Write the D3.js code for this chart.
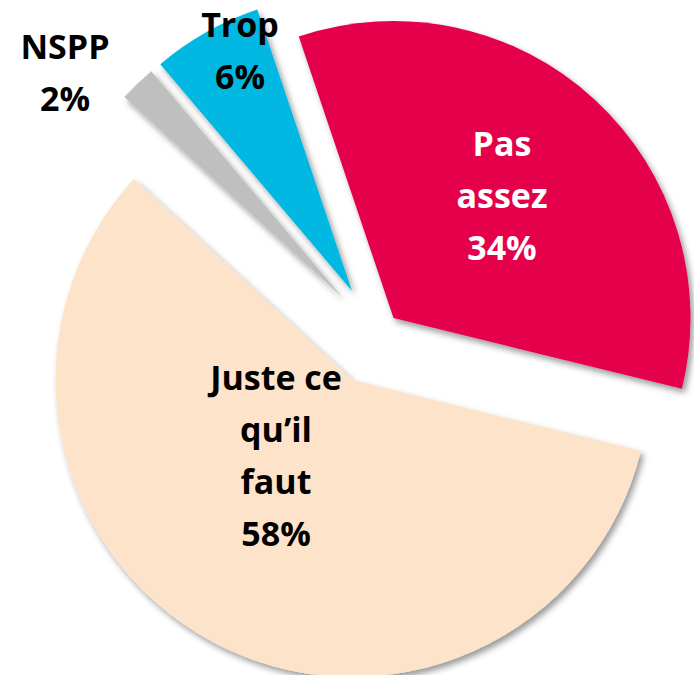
<!DOCTYPE html>
<html>
<head>
<meta charset="utf-8">
<script src="https://cdn.jsdelivr.net/npm/d3@7"></script>
<style>
  html, body { margin: 0; padding: 0; background: #fff; }
  svg { display: block; }
</style>
</head>
<body>
<svg id="chart" width="694" height="675"></svg>
<script>
// ---- data ----
const categories = ["Pas assez", "Juste ce qu’il faut", "NSPP", "Trop"];
const values = [34, 58, 2, 6];
const labelLines = [
  ["Pas", "assez", "34%"],
  ["Juste ce", "qu’il", "faut", "58%"],
  ["NSPP", "2%"],
  ["Trop", "6%"]
];
const colors = ["#E4004B", "#FDE3C9", "#BFBFBF", "#00B8E1"];
const textColors = ["#ffffff", "#000000", "#000000", "#000000"];

// ---- layout ----
const W = 694, H = 675;
const R = 297;
const C = [366, 348];
const startDeg = -18.6;
// per-slice explosion offsets from the common centre
const explode = [[27.5, -30], [-13.5, 32], [-23, -50], [-14, -57]];
// label centres relative to the common centre
const labelPos = [[136, -152], [-90, 108], [-301, -275], [-126, -297]];
const lineH = 52;

const svg = d3.select("#chart");
const defs = svg.append("defs");
const f = defs.append("filter").attr("id", "shadow")
  .attr("x", "-20%").attr("y", "-20%").attr("width", "140%").attr("height", "140%");
f.append("feDropShadow").attr("dx", 3).attr("dy", 4).attr("stdDeviation", 3)
  .attr("flood-color", "#000").attr("flood-opacity", 0.4);

const pie = d3.pie().sort(null).value(d => d)
  .startAngle(startDeg * Math.PI / 180)
  .endAngle(startDeg * Math.PI / 180 + 2 * Math.PI);
const arcs = pie(values);
const arc = d3.arc().innerRadius(0).outerRadius(R);

const g = svg.append("g").attr("transform", `translate(${C[0]},${C[1]})`);

g.selectAll("path.slice")
  .data(arcs)
  .join("path")
  .attr("class", "slice")
  .attr("transform", (d, i) => `translate(${explode[i][0]},${explode[i][1]})`)
  .attr("d", arc)
  .attr("fill", (d, i) => colors[i])
  .attr("filter", "url(#shadow)");

const labels = g.selectAll("text.lbl")
  .data(arcs)
  .join("text")
  .attr("class", "lbl")
  .attr("text-anchor", "middle")
  .attr("font-family", "Open Sans, Lato, sans-serif")
  .attr("font-weight", "bold")
  .attr("font-size", 34)
  .attr("fill", (d, i) => textColors[i]);

labels.each(function(d, i) {
  const lines = labelLines[i];
  const n = lines.length;
  const t = d3.select(this);
  lines.forEach((ln, k) => {
    t.append("tspan")
      .attr("x", labelPos[i][0])
      .attr("y", labelPos[i][1] + (k - (n - 1) / 2) * lineH)
      .attr("dy", "0.35em")
      .text(ln);
  });
});
</script>
</body>
</html>
